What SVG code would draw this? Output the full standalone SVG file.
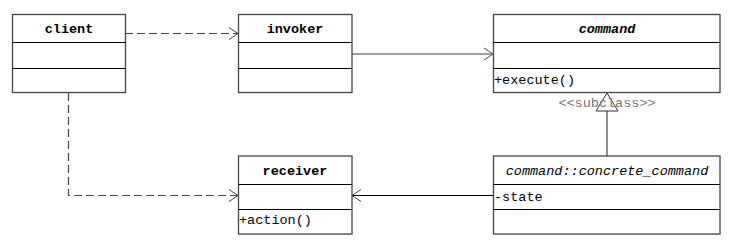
<svg xmlns="http://www.w3.org/2000/svg" width="730" height="250" viewBox="0 0 730 250">
<style>
.box{fill:#fff;stroke:#444;stroke-width:1.3}
.div{stroke:#000;stroke-width:1}
.t{font-family:"Liberation Mono","DejaVu Sans Mono",monospace;font-size:13.5px;fill:#000}
.b{font-weight:bold;text-anchor:middle}
.i{font-style:italic}
.c{text-anchor:middle}
.dash{fill:none;stroke:#444;stroke-width:1.2;stroke-dasharray:8,4}
.solid{fill:none;stroke:#444;stroke-width:1.2}
.head{fill:none;stroke:#444;stroke-width:1}
</style>
<rect width="730" height="250" fill="#fff"/>
<g id="connectors">
  <path class="dash" d="M125,33.5 H237"/>
  <path class="head" d="M229,27.5 L238,33.5 L229,39.5"/>
  <path class="solid" d="M352,54 H492"/>
  <path class="head" d="M484,48 L493,54 L484,60"/>
  <path class="dash" d="M68.5,93 V195.5 H237"/>
  <path class="head" d="M229,189.5 L238,195.5 L229,201.5"/>
  <path class="solid" d="M493,195.5 H353" style="stroke:#000"/>
  <path class="head" d="M361,189.5 L352,195.5 L361,201.5"/>
  <path class="solid" d="M607,111 V156"/>
  <path d="M607,93 L596,111 L618,111 Z" fill="none" stroke="#333" stroke-width="1"/>
  <text class="t c" x="607" y="107" style="fill:#777">&lt;&lt;subclass&gt;&gt;</text>
</g>
<g id="client">
  <rect class="box" x="12.5" y="14.5" width="113" height="78"/>
  <line class="div" x1="12.5" y1="42.5" x2="125.5" y2="42.5"/>
  <line class="div" x1="12.5" y1="68.5" x2="125.5" y2="68.5"/>
  <text class="t b" x="69" y="33">client</text>
</g>
<g id="invoker">
  <rect class="box" x="238.5" y="14.5" width="113.5" height="78"/>
  <line class="div" x1="238.5" y1="42.5" x2="352" y2="42.5"/>
  <line class="div" x1="238.5" y1="68.5" x2="352" y2="68.5"/>
  <text class="t b" x="295" y="33">invoker</text>
</g>
<g id="command">
  <rect class="box" x="493.5" y="14.5" width="226.5" height="78"/>
  <line class="div" x1="493.5" y1="42.5" x2="720" y2="42.5"/>
  <line class="div" x1="493.5" y1="68.5" x2="720" y2="68.5"/>
  <text class="t b i" x="607" y="33">command</text>
  <text class="t" x="494" y="84">+execute()</text>
</g>
<g id="receiver">
  <rect class="box" x="238.5" y="156" width="113.5" height="78"/>
  <line class="div" x1="238.5" y1="184.5" x2="352" y2="184.5"/>
  <line class="div" x1="238.5" y1="209.5" x2="352" y2="209.5"/>
  <text class="t b" x="295" y="175">receiver</text>
  <text class="t" x="239" y="224">+action()</text>
</g>
<g id="concrete_command">
  <rect class="box" x="493.5" y="156" width="226.5" height="78"/>
  <line class="div" x1="493.5" y1="184.5" x2="720" y2="184.5"/>
  <line class="div" x1="493.5" y1="209.5" x2="720" y2="209.5"/>
  <text class="t i c" x="607" y="175">command::concrete_command</text>
  <text class="t" x="494" y="201">-state</text>
</g>
</svg>
